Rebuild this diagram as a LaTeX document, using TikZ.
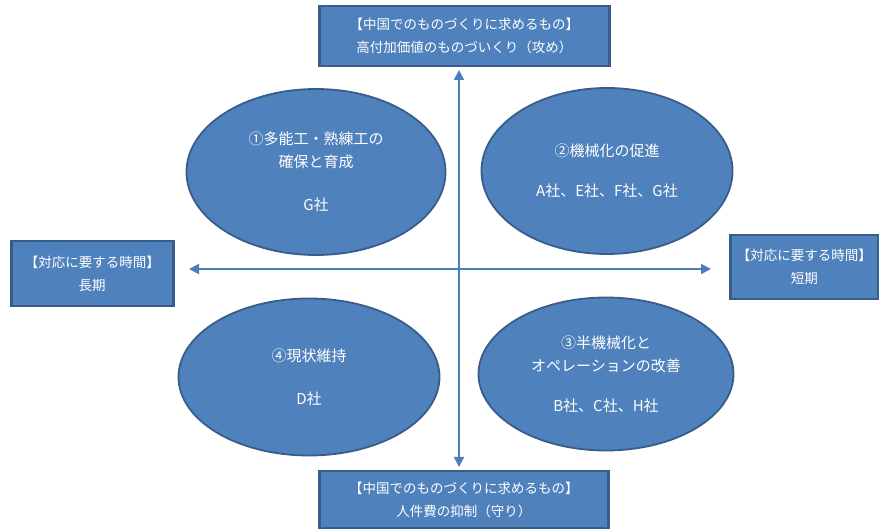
\documentclass[tikz,border=0pt]{standalone}
\usepackage{fontspec}
\setmainfont{Noto Sans CJK JP}
\usetikzlibrary{arrows.meta,shapes.geometric}
\definecolor{fillblue}{HTML}{4F81BD}
\definecolor{edgeblue}{HTML}{385D8A}
\definecolor{arrowblue}{HTML}{4A7EBB}
\tikzset{
  boxnode/.style={draw=edgeblue, line width=2.5pt, fill=fillblue, text=white, align=center,
    font=\fontsize{13.5}{23}\selectfont, inner sep=0pt, anchor=north west},
  ellnode/.style={ellipse, draw=edgeblue, line width=1.8pt, fill=fillblue, text=white, align=center,
    font=\fontsize{15}{23}\selectfont, inner sep=0pt},
  axis/.style={draw=arrowblue, line width=1.8pt, {Triangle[length=10pt,width=10pt]}-{Triangle[length=10pt,width=10pt]}}
}
\begin{document}
\begin{tikzpicture}[x=1pt,y=-1pt]
\useasboundingbox (0,0) rectangle (879,529);
% ellipses
\node[ellnode, minimum width=259, minimum height=166] (e1) at (316,172) {①多能工・熟練工の\\確保と育成\\[20pt]G社};
\node[ellnode, minimum width=251, minimum height=166] (e2) at (607,171) {②機械化の促進\\[17pt]A社、E社、F社、G社};
\node[ellnode, minimum width=255, minimum height=153] (e3) at (606,374) {③半機械化と\\オペレーションの改善\\[17pt]B社、C社、H社};
\node[ellnode, minimum width=261, minimum height=157] (e4) at (309,377) {④現状維持\\[20pt]D社};
% axes
\coordinate (vt) at (459,70);
\coordinate (vb) at (459,467);
\coordinate (hl) at (189,269);
\coordinate (hr) at (711,269);
\draw[axis] (vt) -- (vb);
\draw[axis] (hl) -- (hr);
% boxes
\node[boxnode, minimum width=290, minimum height=60] (top) at (318,5) {【中国でのものづくりに求めるもの】\\高付加価値のものづいくり（攻め）};
\node[boxnode, minimum width=289, minimum height=57] (bottom) at (318,470) {【中国でのものづくりに求めるもの】\\人件費の抑制（守り）};
\node[boxnode, minimum width=162, minimum height=65] (left) at (10,240) {【対応に要する時間】\\長期};
\node[boxnode, minimum width=148, minimum height=64] (right) at (729,234) {【対応に要する時間】\\短期};
\end{tikzpicture}
\end{document}
